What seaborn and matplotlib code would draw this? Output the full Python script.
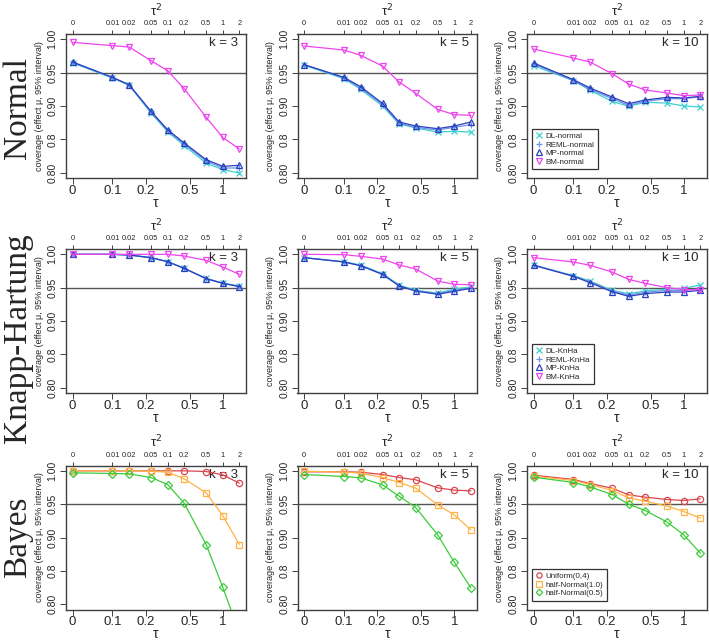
import numpy as np
import pandas as pd
import seaborn as sns
import matplotlib.pyplot as plt
from matplotlib.lines import Line2D

# heterogeneity grid (tau^2) and tau
tau2 = [0, 0.01, 0.02, 0.05, 0.1, 0.2, 0.5, 1, 2]
tau = list(np.sqrt(tau2))
tau_ticks = [0, 0.1, 0.2, 0.5, 1]
tau_ticklabels = ["0", "0.1", "0.2", "0.5", "1"]
tau2_ticklabels = ["0", "0.01", "0.02", "0.05", "0.1", "0.2", "0.5", "1", "2"]
y_ticks = [0.80, 0.85, 0.90, 0.95, 1.00]
y_ticklabels = ["0.80", "0.8", "0.90", "0.95", "1.00"]
row_names = ["Normal", "Knapp-Hartung", "Bayes"]
k_values = [3, 5, 10]

# Normal intervals
normal_k3_dl = [0.9645, 0.942, 0.931, 0.8895, 0.8615, 0.8405, 0.8145, 0.8045, 0.7995]
normal_k3_reml = [0.9655, 0.9425, 0.9315, 0.891, 0.863, 0.843, 0.8175, 0.807, 0.807]
normal_k3_mp = [0.966, 0.943, 0.932, 0.892, 0.8645, 0.8445, 0.8195, 0.8095, 0.811]
normal_k3_bm = [0.9955, 0.9905, 0.9885, 0.968, 0.953, 0.926, 0.883, 0.853, 0.8355]

normal_k5_dl = [0.961, 0.941, 0.925, 0.900, 0.873, 0.867, 0.861, 0.862, 0.861]
normal_k5_reml = [0.962, 0.942, 0.927, 0.902, 0.874, 0.868, 0.864, 0.868, 0.872]
normal_k5_mp = [0.962, 0.943, 0.929, 0.904, 0.876, 0.870, 0.866, 0.870, 0.876]
normal_k5_bm = [0.990, 0.984, 0.976, 0.960, 0.936, 0.919, 0.895, 0.887, 0.886]

normal_k10_dl = [0.9605, 0.938, 0.9235, 0.907, 0.8995, 0.9055, 0.9045, 0.900, 0.8985]
normal_k10_reml = [0.963, 0.938, 0.925, 0.911, 0.901, 0.907, 0.911, 0.911, 0.914]
normal_k10_mp = [0.9645, 0.9395, 0.927, 0.9135, 0.9035, 0.909, 0.913, 0.912, 0.9145]
normal_k10_bm = [0.9855, 0.972, 0.966, 0.9485, 0.933, 0.924, 0.9195, 0.9155, 0.9165]

# Knapp-Hartung intervals
knha_k3_dl = [1.0, 1.0, 0.999, 0.995, 0.989, 0.979, 0.964, 0.957, 0.9525]
knha_k3_reml = [1.0, 1.0, 0.999, 0.995, 0.989, 0.979, 0.9635, 0.9565, 0.952]
knha_k3_mp = [1.0, 1.0, 0.999, 0.995, 0.989, 0.979, 0.9635, 0.9565, 0.9515]
knha_k3_bm = [1.0, 1.0, 1.0, 1.0, 1.0, 0.9975, 0.991, 0.981, 0.970]

knha_k5_dl = [0.995, 0.989, 0.984, 0.971, 0.954, 0.946, 0.942, 0.948, 0.951]
knha_k5_reml = [0.995, 0.9885, 0.983, 0.970, 0.953, 0.945, 0.941, 0.946, 0.950]
knha_k5_mp = [0.995, 0.9885, 0.983, 0.970, 0.9525, 0.945, 0.940, 0.9445, 0.949]
knha_k5_bm = [1.0, 0.9995, 0.997, 0.993, 0.984, 0.978, 0.960, 0.955, 0.9545]

knha_k10_dl = [0.984, 0.968, 0.960, 0.946, 0.941, 0.945, 0.948, 0.949, 0.954]
knha_k10_reml = [0.984, 0.9675, 0.959, 0.945, 0.939, 0.943, 0.946, 0.946, 0.948]
knha_k10_mp = [0.9835, 0.967, 0.9575, 0.944, 0.937, 0.941, 0.9435, 0.9435, 0.946]
knha_k10_bm = [0.995, 0.9885, 0.9835, 0.9735, 0.9625, 0.9565, 0.950, 0.947, 0.947]

# Bayesian intervals
bayes_k3_unif = [1.0, 1.0, 1.0, 1.0, 1.0, 1.0, 0.999, 0.994, 0.9815]
bayes_k3_hn10 = [1.0, 1.0, 1.0, 0.9995, 0.998, 0.988, 0.967, 0.933, 0.8895]
bayes_k3_hn05 = [0.997, 0.996, 0.9955, 0.990, 0.9795, 0.9515, 0.8895, 0.8255, 0.757]

bayes_k5_unif = [0.9985, 0.9985, 0.998, 0.9945, 0.990, 0.9865, 0.9745, 0.971, 0.970]
bayes_k5_hn10 = [0.9995, 0.998, 0.9965, 0.990, 0.9825, 0.974, 0.949, 0.934, 0.9115]
bayes_k5_hn05 = [0.9945, 0.9915, 0.9895, 0.979, 0.962, 0.945, 0.904, 0.863, 0.8245]

bayes_k10_unif = [0.9935, 0.987, 0.981, 0.974, 0.964, 0.9605, 0.957, 0.9555, 0.958]
bayes_k10_hn10 = [0.992, 0.9855, 0.9795, 0.9705, 0.9595, 0.9545, 0.947, 0.939, 0.929]
bayes_k10_hn05 = [0.9905, 0.9825, 0.976, 0.9645, 0.950, 0.9405, 0.923, 0.904, 0.8765]

normal_labels = ["DL-normal", "REML-normal", "MP-normal", "BM-normal"]
knha_labels = ["DL-KnHa", "REML-KnHa", "MP-KnHa", "BM-KnHa"]
bayes_labels = ["Uniform(0,4)", "half-Normal(1.0)", "half-Normal(0.5)"]

freq_colors = ["#3fd0d0", "#6f93e6", "#2a3fbf", "#ee44ee"]
freq_markers = ["x", "+", "^", "v"]
bayes_colors = ["#d9464f", "#ffb347", "#3ccc3c"]
bayes_markers = ["o", "s", "D"]

panels = [
    [[normal_k3_dl, normal_k3_reml, normal_k3_mp, normal_k3_bm],
     [normal_k5_dl, normal_k5_reml, normal_k5_mp, normal_k5_bm],
     [normal_k10_dl, normal_k10_reml, normal_k10_mp, normal_k10_bm]],
    [[knha_k3_dl, knha_k3_reml, knha_k3_mp, knha_k3_bm],
     [knha_k5_dl, knha_k5_reml, knha_k5_mp, knha_k5_bm],
     [knha_k10_dl, knha_k10_reml, knha_k10_mp, knha_k10_bm]],
    [[bayes_k3_unif, bayes_k3_hn10, bayes_k3_hn05],
     [bayes_k5_unif, bayes_k5_hn10, bayes_k5_hn05],
     [bayes_k10_unif, bayes_k10_hn10, bayes_k10_hn05]],
]
row_labels = [normal_labels, knha_labels, bayes_labels]

# x axis: log(tau) above 0.1, linear piece between 0 and 0.1
L01 = np.log(0.1)
GAP = 0.831


def fwd(t):
    t = np.asarray(t, dtype=float)
    return np.where(t >= 0.1, np.log(np.maximum(t, 0.1)), L01 - GAP * (1 - t / 0.1))


def inv(p):
    p = np.asarray(p, dtype=float)
    return np.where(p >= L01, np.exp(np.minimum(p, 50)), 0.1 * (1 - (L01 - p) / GAP))


sns.set_style("ticks")
plt.rcParams["font.family"] = ["Liberation Sans", "DejaVu Sans"]

fig = plt.figure(figsize=(7.09, 6.40), dpi=100)

W, H = 709, 640
col_left = [66, 297.5, 527]
col_width = 180
row_top = [34, 249, 465.5]
row_height = 144
row_label_y = [108, 338, 537]
frame_col = "#404040"

p_lo, p_hi = fwd(0), fwd(np.sqrt(2))
pad = 0.04 * (p_hi - p_lo)
xlim = (float(inv(p_lo - pad)), float(inv(p_hi + pad)))

for r in range(3):
    for c in range(3):
        ax = fig.add_axes([col_left[c] / W, 1 - (row_top[r] + row_height) / H,
                           col_width / W, row_height / H])
        series = panels[r][c]
        colors = bayes_colors if r == 2 else freq_colors
        markers = bayes_markers if r == 2 else freq_markers
        ax.axhline(0.95, color="#555555", lw=1.0, zorder=1)
        for vals, col, mk, lab in zip(series, colors, markers, row_labels[r]):
            df = pd.DataFrame({"tau": tau, "coverage": vals})
            sns.lineplot(data=df, x="tau", y="coverage", ax=ax, color=col,
                         marker=mk, markersize=4.5 if mk != "D" else 3.8,
                         fillstyle="none", markeredgewidth=0.9, markeredgecolor=col,
                         lw=0.9, estimator=None, zorder=3)
        ax.set_xscale("function", functions=(fwd, inv))
        ax.set_xlim(xlim)
        ax.set_ylim(0.792, 1.008)
        ax.set_xticks(tau_ticks)
        ax.set_xticklabels(tau_ticklabels, fontsize=9.5)
        ax.xaxis.set_minor_locator(plt.NullLocator())
        ax.set_yticks(y_ticks)
        ax.set_yticklabels(y_ticklabels, fontsize=7.5, rotation=90, va="center")
        ax.set_xlabel("τ", fontsize=10, labelpad=-1)
        ax.set_ylabel("coverage (effect μ, 95% interval)", fontsize=6.5, labelpad=3)
        ax.tick_params(axis="x", direction="out", length=4, width=0.7, color=frame_col, pad=1)
        ax.tick_params(axis="y", direction="out", length=4, width=0.7, color=frame_col, pad=2)
        for s in ax.spines.values():
            s.set_color(frame_col)
            s.set_linewidth(1.0)
            s.set_visible(True)
        ax.text(0.955, 0.935, f"k = {k_values[c]}", transform=ax.transAxes,
                ha="right", va="center", fontsize=9.5, zorder=2)

        top = ax.twiny()
        top.set_xscale("function", functions=(fwd, inv))
        top.set_xlim(xlim)
        top.set_xticks(np.sqrt(tau2))
        top.set_xticklabels(tau2_ticklabels, fontsize=5.3)
        top.xaxis.set_minor_locator(plt.NullLocator())
        top.tick_params(direction="out", length=3, width=0.7, color=frame_col, pad=2)
        top.set_xlabel("τ$^2$", fontsize=9.5, labelpad=3)
        for s in top.spines.values():
            s.set_visible(False)

        if c == 2:
            handles = [Line2D([], [], color=col, marker=mk, ls="none", fillstyle="none",
                              markersize=3.8 if mk != "D" else 3.3, markeredgewidth=0.9)
                       for col, mk in zip(colors, markers)]
            leg = ax.legend(handles, row_labels[r], loc="lower left",
                            bbox_to_anchor=(0.03, 0.06), borderaxespad=0,
                            fontsize=5.8, frameon=True, fancybox=False, framealpha=1,
                            edgecolor="#333333", handlelength=0.8, handletextpad=0.4,
                            labelspacing=0.12, borderpad=0.45)
            leg.get_frame().set_linewidth(0.9)
        elif ax.get_legend() is not None:
            ax.get_legend().remove()

    fig.text(18 / W, 1 - row_label_y[r] / H, row_names[r],
             rotation=90, ha="center", va="center", fontsize=24,
             family=["Liberation Serif", "DejaVu Serif"])

fig.savefig("out.png", dpi=100)
